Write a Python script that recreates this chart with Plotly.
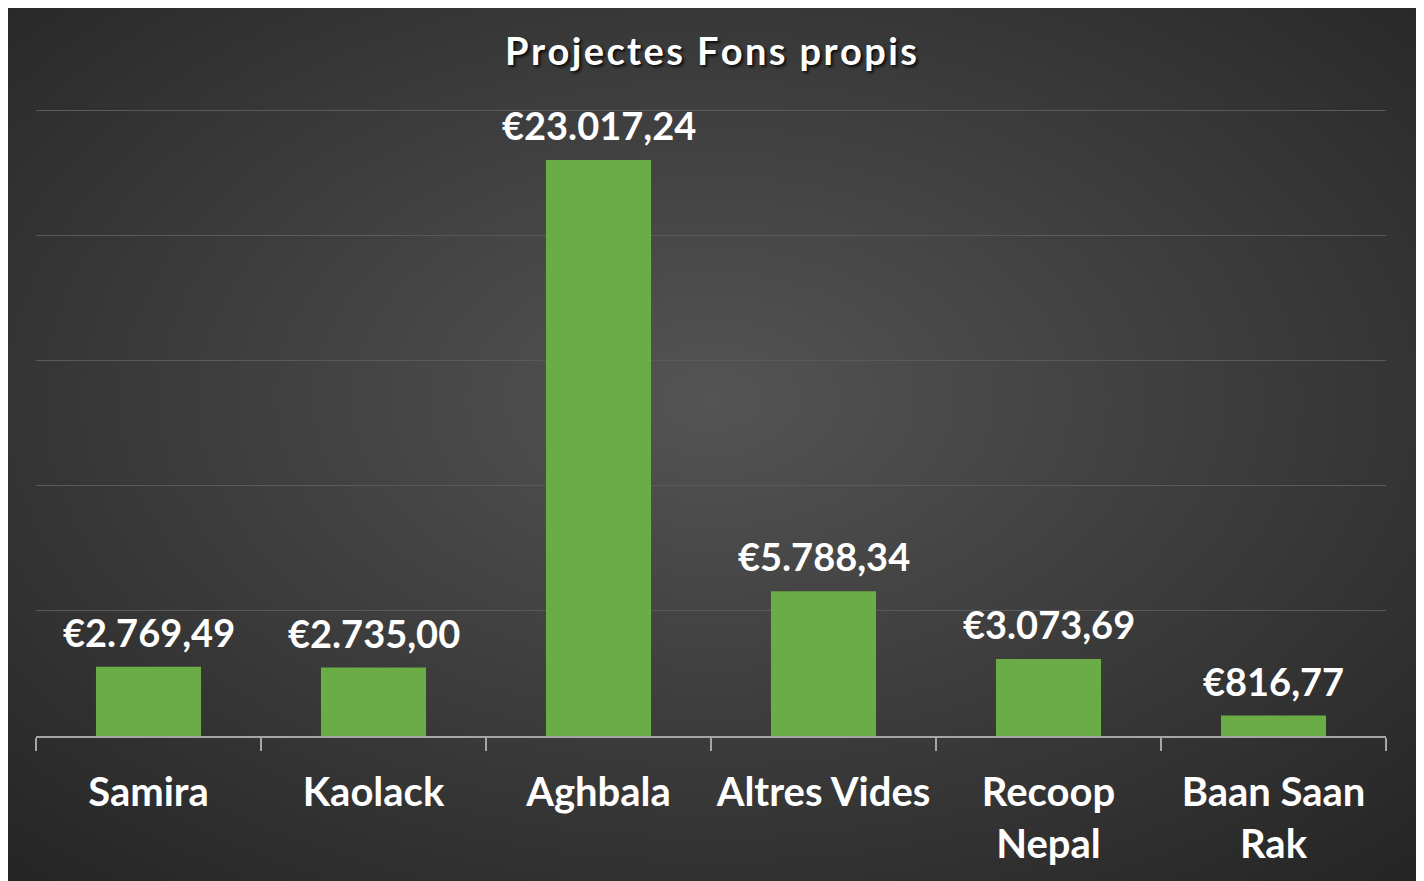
import plotly.graph_objects as go

categories = ["Samira", "Kaolack", "Aghbala", "Altres Vides", "Recoop<br>Nepal", "Baan Saan<br>Rak"]
values = [2769.49, 2735.00, 23017.24, 5788.34, 3073.69, 816.77]
title_text = "Projectes Fons propis"

FONT = "Lato"
WHITE = "#ffffff"


def euro(v):
    s = f"{v:,.2f}".replace(",", "X").replace(".", ",").replace("X", ".")
    return "€" + s


def spaced(s):
    # espaiat entre lletres com al títol original
    return "\u200a".join(s)


# fons gris fosc amb degradat radial
bg_svg = (
    "data:image/svg+xml;utf8,"
    "<svg xmlns='http://www.w3.org/2000/svg' width='1410' height='876' preserveAspectRatio='none'>"
    "<defs><radialGradient id='g' cx='50%' cy='45%' r='75%'>"
    "<stop offset='0%' stop-color='%23545454'/>"
    "<stop offset='100%' stop-color='%23242424'/>"
    "</radialGradient></defs>"
    "<rect width='1410' height='876' fill='url(%23g)'/></svg>"
)

fig = go.Figure()
fig.add_trace(go.Bar(
    x=categories, y=values,
    width=0.467,
    marker=dict(color="#6aac45", line=dict(width=0)),
    hovertemplate="%{x}: %{y:,.2f} €<extra></extra>",
))

for c, v in zip(categories, values):
    fig.add_annotation(
        x=c, y=v, text=euro(v), showarrow=False,
        yanchor="middle", yshift=35,
        font=dict(family=FONT, size=38, color=WHITE, weight="bold"),
    )

plot_h = 881 - 100 - 153
fig.update_layout(
    width=1424, height=881,
    margin=dict(l=28, r=46, t=100, b=153),
    paper_bgcolor="white", plot_bgcolor="rgba(0,0,0,0)",
    showlegend=False,
    title=dict(
        text=spaced(title_text), x=(711 - 8) / 1424, xanchor="center",
        y=1 - 44 / 881, yanchor="middle",
        font=dict(family=FONT, size=38, color=WHITE, weight="bold",
                  shadow="2px 2px 3px rgba(0,0,0,0.8)"),
    ),
    images=[dict(
        source=bg_svg, xref="paper", yref="paper",
        x=(-2 - 28) / 1350, y=(728 + 3) / plot_h,
        sizex=1410 / 1350, sizey=876 / plot_h,
        xanchor="left", yanchor="top", sizing="stretch", layer="below",
    )],
    xaxis=dict(
        showline=True, linecolor="#a6a6a6", linewidth=2,
        ticks="outside", tickson="boundaries", ticklen=13, tickwidth=2, tickcolor="#a6a6a6",
        ticklabelstandoff=20,
        tickfont=dict(family=FONT, size=40, color=WHITE, weight="bold"),
        showgrid=False,
    ),
    yaxis=dict(
        range=[0, 25100], tickvals=[5000, 10000, 15000, 20000, 25000], showticklabels=False,
        showgrid=True, gridcolor="#5a5a5a", gridwidth=1, zeroline=False,
    ),
)

fig.write_html("out.html")
